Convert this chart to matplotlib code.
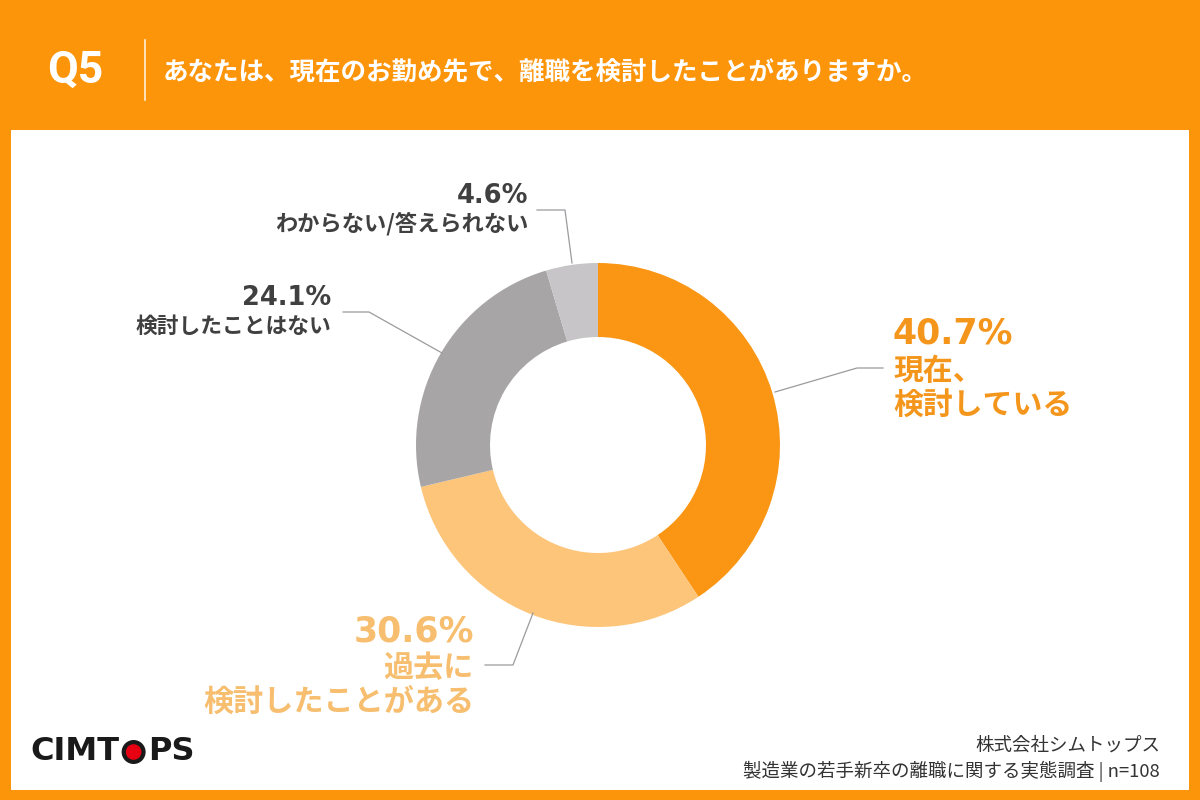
import matplotlib
matplotlib.use("Agg")
import matplotlib.pyplot as plt
from matplotlib.patches import Rectangle, Circle

plt.rcParams['font.family'] = ['Noto Sans CJK JP', 'DejaVu Sans']

# ---- data ----
question_no = "Q5"
question = "あなたは、現在のお勤め先で、離職を検討したことがありますか。"
labels = ["現在、\n検討している", "過去に\n検討したことがある", "検討したことはない", "わからない/答えられない"]
values = [40.7, 30.6, 24.1, 4.6]
pct_text = ["40.7%", "30.6%", "24.1%", "4.6%"]
colors = ["#FA9614", "#FDC57A", "#A8A5A7", "#C7C5C7"]
company = "株式会社シムトップス"
source = "製造業の若手新卒の離職に関する実態調査 | n=108"

BG = "#FD950A"
DARK = "#404040"

fig = plt.figure(figsize=(12, 8), dpi=100)
fig.patch.set_facecolor(BG)
ax = fig.add_axes([0, 0, 1, 1])
ax.set_facecolor(BG)

H = 800
def Y(y):
    return H - y

# white panel
ax.add_patch(Rectangle((11, Y(790)), 1178, 660, facecolor="#FFFFFF", edgecolor="none", zorder=0))

# header
ax.text(47, Y(71), question_no, color="white", fontsize=32, fontweight="bold",
        family=["Roboto", "DejaVu Sans"], va="center", ha="left")
ax.plot([145, 145], [Y(40), Y(100)], color="white", lw=1.2, alpha=0.85)
ax.text(163, Y(72), question, color="white", fontsize=18.4, fontweight="bold", va="center", ha="left")

# donut
cx, cy, R, Rin = 598, Y(445), 182, 108
ax.pie(values, colors=colors, startangle=90, counterclock=False, center=(cx, cy), radius=R,
       wedgeprops=dict(width=R - Rin, edgecolor="none"), frame=True)

# leader lines
lc = "#9C9A9E"
lw = 0.9
ax.plot([537, 565, 572], [Y(210), Y(210), Y(263)], color=lc, lw=lw)
ax.plot([343, 369, 442], [Y(312), Y(312), Y(353)], color=lc, lw=lw)
ax.plot([883, 857, 775], [Y(368), Y(368), Y(392)], color=lc, lw=lw)
ax.plot([485, 513, 533], [Y(665), Y(665), Y(613)], color=lc, lw=lw)

numfont = ["DejaVu Sans"]
# labels
ax.text(892, Y(333), pct_text[0], color="#F5961C", fontsize=25, fontweight="bold", family=numfont,
        ha="left", va="center")
ax.text(893, Y(388), labels[0], color="#F5961C", fontsize=21.5, fontweight="bold",
        ha="left", va="center", linespacing=1.15)

ax.text(474, Y(632), pct_text[1], color="#F6BE6E", fontsize=25, fontweight="bold", family=numfont,
        ha="right", va="center")
ax.text(474, Y(685), labels[1], color="#F6BE6E", fontsize=21.7, fontweight="bold",
        ha="right", va="center", multialignment="right", linespacing=1.15)

ax.text(331, Y(298), pct_text[2], color=DARK, fontsize=18.5, fontweight="bold", family=numfont,
        ha="right", va="center")
ax.text(331, Y(326), labels[2], color=DARK, fontsize=15.7, fontweight="bold",
        ha="right", va="center")

ax.text(528, Y(196), pct_text[3], color=DARK, fontsize=18.5, fontweight="bold", family=numfont,
        ha="right", va="center")
ax.text(528, Y(224), labels[3], color=DARK, fontsize=16, fontweight="bold",
        ha="right", va="center")

# footer
ax.text(1160, Y(746), company, color="#333333", fontsize=13.3, ha="right", va="center")
ax.text(1160, Y(771), source, color="#333333", fontsize=13.3, ha="right", va="center")

ax.set_xlim(0, 1200)
ax.set_ylim(0, 800)
ax.set_aspect("equal")
ax.axis("off")

# logo
logo_kw = dict(color="#1A1A1A", fontsize=23, fontweight="bold", family=["DejaVu Sans"],
               va="center", ha="left")
fig.canvas.draw()
r = fig.canvas.get_renderer()
def width_of(s):
    tt = ax.text(0, 0, s, **logo_kw)
    bb = tt.get_window_extent(r)
    tt.remove()
    return bb.width
ly = Y(752)
ax.text(30, ly, "CIMT", **logo_kw)
w_pre = width_of("CIMT")
w_o = width_of("O") + 2
ocx = 30 + w_pre + w_o / 2
ax.add_patch(Circle((ocx, ly), 12, facecolor="#1A1A1A", edgecolor="none", zorder=5))
ax.add_patch(Circle((ocx, ly), 7.8, facecolor="#E60012", edgecolor="none", zorder=6))
ax.text(30 + w_pre + w_o, ly, "PS", **logo_kw)

fig.savefig("out.png", dpi=100, facecolor=BG)
